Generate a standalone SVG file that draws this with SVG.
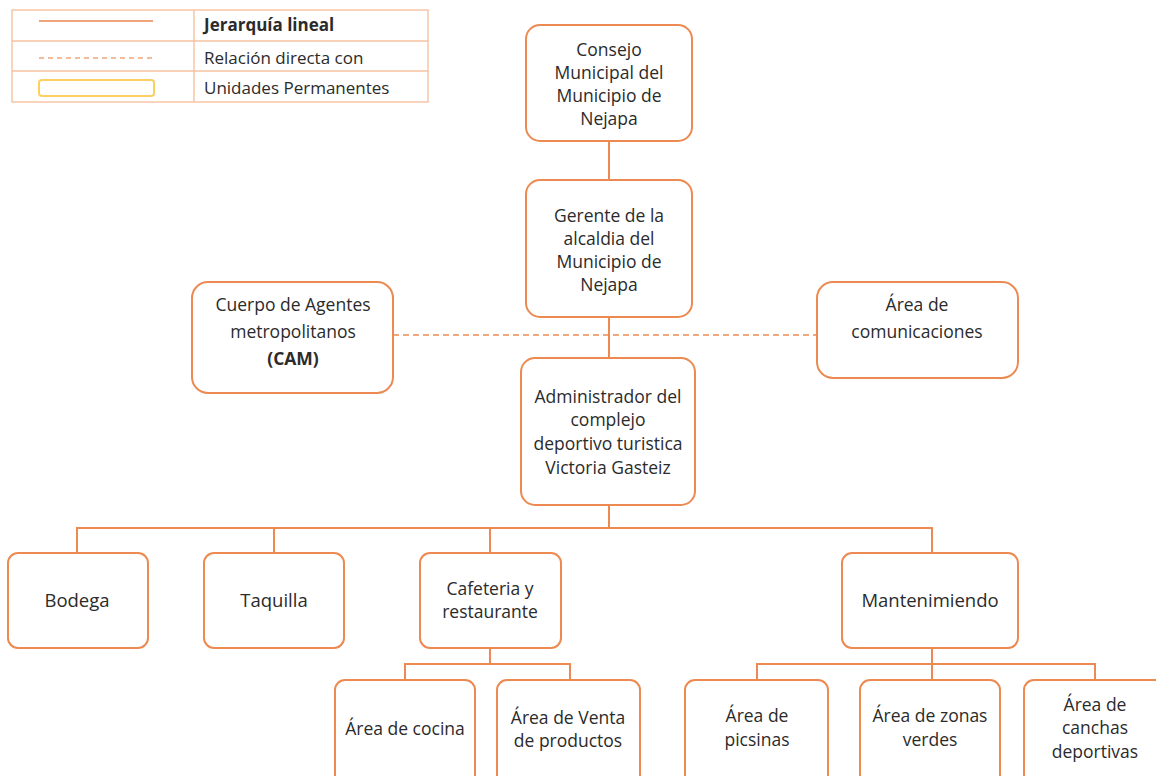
<svg xmlns="http://www.w3.org/2000/svg" width="1156" height="776" viewBox="0 0 1156 776">
  <style>
    .box { fill: #ffffff; stroke: #ec8a52; stroke-width: 2; }
    .ln { fill: none; stroke: #ec8a52; stroke-width: 2; }
    .dash { fill: none; stroke: #ec8a52; stroke-width: 1.6; stroke-dasharray: 6 4; }
    .lg { fill: none; stroke: #f6c2a0; stroke-width: 1.4; }
    text { font-family: "Open Sans", "Liberation Sans", sans-serif; font-size: 17.5px; fill: #2b2b2b; text-anchor: middle; }
    .lt { text-anchor: start; font-size: 17px; }
    .b { font-weight: bold; }
    .big { font-size: 18.5px; }
  </style>
  <rect width="1156" height="776" fill="#ffffff"/>

  <!-- legend -->
  <g id="legend">
    <rect class="lg" x="12" y="10" width="416" height="92"/>
    <line class="lg" x1="12" y1="41" x2="428" y2="41"/>
    <line class="lg" x1="12" y1="71" x2="428" y2="71"/>
    <line class="lg" x1="194" y1="10" x2="194" y2="102"/>
    <line x1="39" y1="21" x2="153" y2="21" stroke="#f1a57a" stroke-width="2"/>
    <line x1="39" y1="58" x2="153" y2="58" stroke="#f1a57a" stroke-width="1.6" stroke-dasharray="5 4"/>
    <rect x="39" y="80" width="115" height="16" rx="3" fill="none" stroke="#fcd060" stroke-width="2"/>
    <text class="lt b" x="204" y="31">Jerarquía lineal</text>
    <text class="lt" x="204" y="64">Relación directa con</text>
    <text class="lt" x="204" y="94">Unidades Permanentes</text>
  </g>

  <!-- connectors -->
  <g id="connectors">
    <line class="ln" x1="609" y1="141" x2="609" y2="180"/>
    <line class="ln" x1="609" y1="317" x2="609" y2="358"/>
    <line class="dash" x1="393" y1="335" x2="817" y2="335"/>
    <line class="ln" x1="609" y1="505" x2="609" y2="528"/>
    <polyline class="ln" points="77,553 77,528 932,528 932,553"/>
    <line class="ln" x1="274" y1="528" x2="274" y2="553"/>
    <line class="ln" x1="490" y1="528" x2="490" y2="553"/>
    <line class="ln" x1="490" y1="648" x2="490" y2="664"/>
    <polyline class="ln" points="405,680 405,664 570,664 570,680"/>
    <line class="ln" x1="932" y1="648" x2="932" y2="680"/>
    <polyline class="ln" points="757,680 757,664 1095,664 1095,680"/>
  </g>

  <g id="consejo">
    <rect class="box" x="526" y="25" width="166" height="116" rx="14"/>
    <text x="609" y="56">Consejo</text>
    <text x="609" y="79">Municipal del</text>
    <text x="609" y="102">Municipio de</text>
    <text x="609" y="125">Nejapa</text>
  </g>

  <g id="gerente">
    <rect class="box" x="526" y="180" width="166" height="137" rx="14"/>
    <text x="609" y="222">Gerente de la</text>
    <text x="609" y="245">alcaldia del</text>
    <text x="609" y="268">Municipio de</text>
    <text x="609" y="291">Nejapa</text>
  </g>

  <g id="cam">
    <rect class="box" x="192" y="282" width="201" height="111" rx="16"/>
    <text x="293" y="311">Cuerpo de Agentes</text>
    <text x="293" y="338">metropolitanos</text>
    <text class="b" x="293" y="365">(CAM)</text>
  </g>

  <g id="comunicaciones">
    <rect class="box" x="817" y="282" width="201" height="96" rx="16"/>
    <text x="917" y="311">Área de</text>
    <text x="917" y="338">comunicaciones</text>
  </g>

  <g id="administrador">
    <rect class="box" x="521" y="358" width="174" height="147" rx="14"/>
    <text x="608" y="403">Administrador del</text>
    <text x="608" y="426">complejo</text>
    <text x="608" y="450">deportivo turistica</text>
    <text x="608" y="474">Victoria Gasteiz</text>
  </g>

  <g id="bodega">
    <rect class="box" x="8" y="553" width="140" height="95" rx="10"/>
    <text class="big" x="77" y="607">Bodega</text>
  </g>

  <g id="taquilla">
    <rect class="box" x="204" y="553" width="140" height="95" rx="10"/>
    <text class="big" x="274" y="607">Taquilla</text>
  </g>

  <g id="cafeteria">
    <rect class="box" x="420" y="553" width="141" height="95" rx="10"/>
    <text x="490" y="595">Cafeteria y</text>
    <text x="490" y="618">restaurante</text>
  </g>

  <g id="mantenimiendo">
    <rect class="box" x="842" y="553" width="176" height="95" rx="10"/>
    <text class="big" x="930" y="607">Mantenimiendo</text>
  </g>

  <g id="cocina">
    <rect class="box" x="335" y="680" width="140" height="110" rx="10"/>
    <text x="405" y="735">Área de cocina</text>
  </g>

  <g id="venta">
    <rect class="box" x="497" y="680" width="143" height="110" rx="10"/>
    <text x="568" y="724">Área de Venta</text>
    <text x="568" y="747">de productos</text>
  </g>

  <g id="piscinas">
    <rect class="box" x="685" y="680" width="143" height="110" rx="10"/>
    <text x="757" y="722">Área de</text>
    <text x="757" y="746">picsinas</text>
  </g>

  <g id="zonas-verdes">
    <rect class="box" x="860" y="680" width="140" height="110" rx="10"/>
    <text x="930" y="722">Área de zonas</text>
    <text x="930" y="746">verdes</text>
  </g>

  <g id="canchas">
    <rect class="box" x="1024" y="680" width="145" height="110" rx="10"/>
    <text x="1095" y="711">Área de</text>
    <text x="1095" y="734">canchas</text>
    <text x="1095" y="758">deportivas</text>
  </g>
</svg>
